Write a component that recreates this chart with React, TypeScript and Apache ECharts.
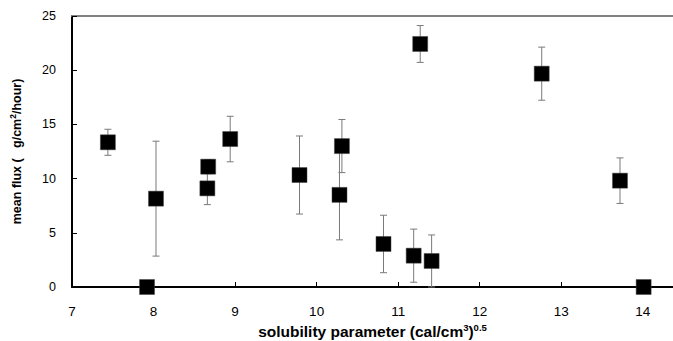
import React, { useEffect, useRef } from "react";
import * as echarts from "echarts";

const solubility = [7.44, 7.92, 8.03, 8.66, 8.67, 8.94, 9.79, 10.28, 10.31, 10.82, 11.19, 11.27, 11.41, 12.76, 13.72, 14.01];
const meanFlux = [13.35, 0, 8.15, 9.1, 11.1, 13.65, 10.33, 8.5, 13.0, 3.97, 2.89, 22.42, 2.4, 19.68, 9.81, 0];
const fluxError = [1.2, 0, 5.3, 1.5, 0.65, 2.1, 3.6, 4.15, 2.45, 2.65, 2.45, 1.7, 2.4, 2.45, 2.1, 0];
const xTicks = [7, 8, 9, 10, 11, 12, 13, 14];

const FONT = "'Liberation Sans', Arial, sans-serif";

export default function App() {
  const ref = useRef<HTMLDivElement>(null);
  useEffect(() => {
    if (!ref.current) return;
    const chart = echarts.init(ref.current, null, { renderer: "svg" });
    const points = solubility.map((x, i) => [x, meanFlux[i]]);
    const bars = solubility
      .map((x, i) => [x, Math.max(0, meanFlux[i] - fluxError[i]), meanFlux[i] + fluxError[i], fluxError[i]])
      .filter((d) => d[3] > 0);
    chart.setOption({
      animation: false,
      backgroundColor: "#fff",
      textStyle: { fontFamily: FONT },
      grid: { left: 72, top: 16, right: 0, bottom: 54, containLabel: false, outerBoundsMode: "none" },
      xAxis: [
        {
          type: "value",
          min: 7,
          max: 14.37,
          interval: 1,
          position: "bottom",
          axisLine: { show: true, onZero: false, lineStyle: { color: "#000", width: 2 } },
          axisTick: { show: true, inside: true, length: 5, customValues: xTicks, lineStyle: { color: "#000", width: 1 } },
          axisLabel: { customValues: xTicks, margin: 17, color: "#000", fontSize: 13.5, fontFamily: FONT },
          splitLine: { show: false },
          name: "{t|solubility parameter (cal/cm}{sup|3}{t|)}{sup|0.5}",
          nameLocation: "middle",
          nameGap: 35,
          nameTextStyle: {
            color: "#000",
            fontSize: 15.5,
            fontWeight: "bold",
            fontFamily: FONT,
            rich: {
              t: { fontSize: 15.5, fontWeight: "bold", fontFamily: FONT, color: "#000", lineHeight: 18 },
              sup: { fontSize: 9.5, fontWeight: "bold", fontFamily: FONT, color: "#000", verticalAlign: "top", lineHeight: 10 },
            },
          },
        },
        {
          type: "value",
          min: 7,
          max: 14.37,
          position: "top",
          axisLine: { show: true, onZero: false, lineStyle: { color: "#808080", width: 2 } },
          axisTick: { show: false },
          axisLabel: { show: false },
          splitLine: { show: false },
        },
      ],
      yAxis: {
        type: "value",
        min: 0,
        max: 25,
        interval: 5,
        axisLine: { show: true, lineStyle: { color: "#000", width: 2 } },
        axisTick: { show: true, inside: true, length: 5, lineStyle: { color: "#000", width: 1 } },
        axisLabel: { margin: 16, color: "#000", fontSize: 12.5, fontFamily: FONT },
        splitLine: { show: false },
        name: "mean flux (   g/cm{sup|2}/hour)",
        nameLocation: "middle",
        nameGap: 47,
        nameTextStyle: {
          color: "#000",
          fontSize: 12.5,
          fontWeight: "bold",
          fontFamily: FONT,
          rich: { sup: { fontSize: 8.5, fontWeight: "bold", verticalAlign: "top", padding: [0, 0, 8, 0], fontFamily: FONT } },
        },
      },
      series: [
        {
          type: "custom",
          xAxisIndex: 0,
          z: 1,
          data: bars,
          renderItem: (params: any, api: any) => {
            const x = api.value(0);
            const lo = api.coord([x, api.value(1)]);
            const hi = api.coord([x, api.value(2)]);
            const hw = 3.5;
            const style = { stroke: "#7a7a7a", lineWidth: 1 };
            return {
              type: "group",
              children: [
                { type: "line", shape: { x1: lo[0], y1: lo[1], x2: hi[0], y2: hi[1] }, style },
                { type: "line", shape: { x1: hi[0] - hw, y1: hi[1], x2: hi[0] + hw, y2: hi[1] }, style },
                { type: "line", shape: { x1: lo[0] - hw, y1: lo[1], x2: lo[0] + hw, y2: lo[1] }, style },
              ],
            };
          },
        },
        {
          type: "scatter",
          xAxisIndex: 0,
          z: 3,
          symbol: "rect",
          symbolSize: 15,
          clip: false,
          itemStyle: { color: "#000", opacity: 1, borderColor: "#444", borderWidth: 0.5 },
          data: points,
        },
      ],
    });
    return () => chart.dispose();
  }, []);
  return <div ref={ref} style={{ position: "fixed", left: 0, top: 0, width: 673, height: 341 }} />;
}
